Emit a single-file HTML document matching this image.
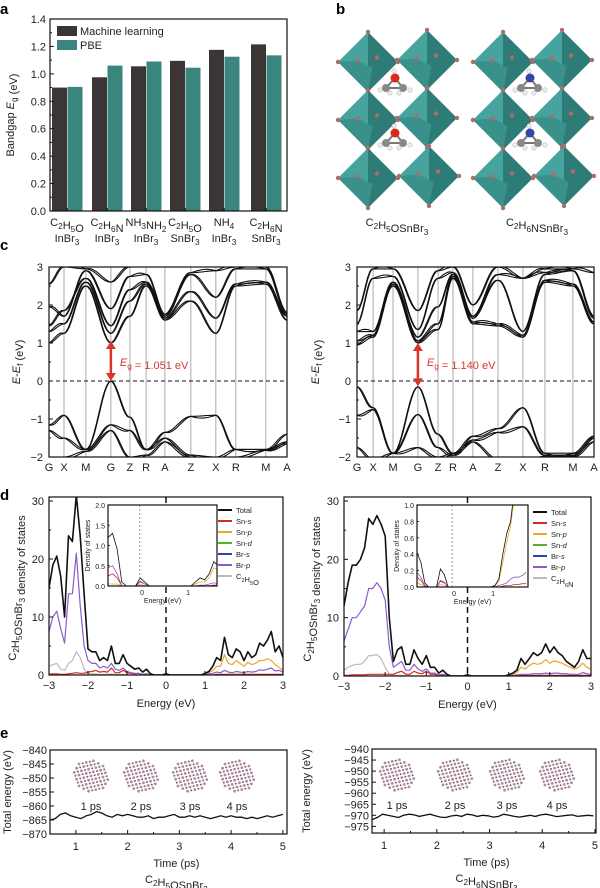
<!DOCTYPE html>
<html><head><meta charset="utf-8">
<style>
html,body{margin:0;padding:0;background:#fff;}
svg{display:block;font-family:"Liberation Sans",Arial,sans-serif;}
</style></head>
<body>
<svg id="fig" width="600" height="888" viewBox="0 0 600 888" xmlns="http://www.w3.org/2000/svg">
<defs>
<clipPath id="clipCL"><rect x="49" y="267" width="238" height="190"/></clipPath>
<clipPath id="clipCR"><rect x="357" y="267" width="237" height="190"/></clipPath>
<clipPath id="clipDL"><rect x="49" y="497" width="234" height="178"/></clipPath>
<clipPath id="clipDR"><rect x="344" y="497" width="247" height="179"/></clipPath>
<clipPath id="clipIL"><rect x="108" y="503" width="109" height="83"/></clipPath>
<clipPath id="clipIR"><rect x="417" y="505" width="111" height="82"/></clipPath>
</defs>
<g id="root"></g>
</svg>
<script>
// ===== Panel a data =====
const catTop = ["C₂H₅O","C₂H₆N","NH₃NH₂","C₂H₅O","NH₄","C₂H₆N"];
const catBot = ["InBr₃","InBr₃","InBr₃","SnBr₃","InBr₃","SnBr₃"];
const mlValues = [0.90,0.975,1.055,1.095,1.175,1.215];
const pbeValues = [0.905,1.06,1.09,1.045,1.125,1.135];
const aTicks = [0.0,0.2,0.4,0.6,0.8,1.0,1.2,1.4];
// ===== Panel c data =====
const kLabels = ["G","X","M","G","Z","R","A","Z","X","R","M","A"];
const kPosL = [0,0.063,0.155,0.26,0.34,0.408,0.487,0.596,0.701,0.785,0.911,1.0];
const kPosR = [0,0.068,0.152,0.257,0.342,0.405,0.489,0.595,0.7,0.793,0.911,1.0];
const bandsL = [
 [-1.15,-0.9,-1.8,0,-0.95,-1.8,-1.35,-0.93,-0.9,-1.8,-1.8,-1.4],
 [-1.3,-1.5,-1.8,-1.15,-1.3,-1.8,-1.5,-1.95,-2.0,-1.8,-1.8,-1.6],
 [-2.1,-2.0,-1.85,-1.3,-2.0,-1.95,-1.6,-2.0,-2.05,-2.0,-1.82,-1.65],
 [1.0,1.25,2.5,1.0,1.7,2.5,1.6,2.1,1.25,2.5,2.55,1.6],
 [1.3,1.5,2.6,1.25,2.1,2.55,1.65,2.35,1.65,2.55,2.6,1.7],
 [1.45,1.85,2.7,1.45,2.4,2.6,1.7,2.8,2.2,2.95,2.95,1.75],
 [1.95,1.7,2.9,1.9,2.75,2.8,1.75,2.85,2.9,3.0,3.0,1.8],
 [2.55,3.0,2.95,2.6,3.0,3.0,3.1,3.0,3.0,3.1,3.1,3.1]
];
const bandsR = [
 [-0.15,-0.7,-1.9,-0.15,-1.4,-1.9,-1.45,-1.25,-0.7,-1.9,-1.9,-1.45],
 [-0.9,-0.75,-1.9,-0.88,-1.75,-1.95,-1.55,-1.35,-1.2,-1.95,-1.95,-1.5],
 [-1.75,-2.05,-1.9,-1.75,-2.0,-1.9,-1.6,-2.05,-2.1,-1.98,-1.98,-1.6],
 [0.95,1.15,2.5,1.0,1.35,2.7,1.5,1.45,1.15,2.6,2.5,1.5],
 [1.05,1.2,2.55,1.05,1.5,2.75,1.55,1.5,1.2,2.65,2.55,1.55],
 [1.3,1.3,2.6,1.15,1.95,2.8,1.65,2.65,1.3,2.8,2.9,1.65],
 [1.5,2.7,2.75,1.35,2.7,2.85,1.7,2.8,2.7,2.85,2.9,1.7],
 [1.85,2.95,2.95,1.85,2.9,3.0,2.0,3.0,2.7,2.95,2.95,2.85]
];
const cTicks = [-2,-1,0,1,2,3];
// ===== Panel d data (energy grid -3..3 step 0.1) =====
const dosTotalL = [15,19,20.5,17,10,24,23,31,24,14,4.5,4,4,2.5,3,2.5,5,2,2,3.5,2,1.5,1,1.2,0.5,1,0.2,0,0,0,0.2,0,0,0,0,0,0,0,0,0,0.3,0.6,1.5,3,2.5,6.5,3.5,3,4.5,4,2.5,4,3,3.5,5.5,5,6,7.5,4,5,3];
const dosBrpL = [7.5,10,11,8,5.5,14,14,21,12,5,2.5,2,2,1.2,1.5,1.2,2,1,0.8,1.2,0.6,0.4,0.3,0.3,0.1,0.2,0,0,0,0,0,0,0,0,0,0,0,0,0,0,0.1,0.2,0.3,0.5,0.4,0.8,0.5,0.4,0.6,0.5,0.4,0.6,0.5,0.6,0.9,0.8,1,1.2,0.7,0.8,0.5];
const dosOrgL = [1.5,1.8,2,1,0.8,2,2.5,4,3,1,0.3,0.2,0.2,0.1,0.1,0.1,0.2,0.1,0.1,0.1,0,0,0,0,0,0,0,0,0,0,0,0,0,0,0,0,0,0,0,0,0,0,0,0,0,0,0,0,0,0,0,0,0,0,0,0,0,0,0,0,0];
const dosSnsL = [0.1,0.2,0.2,0.1,0.1,0.2,0.3,0.4,0.3,0.3,0.5,0.6,0.8,0.5,0.6,0.5,1.2,0.4,0.4,0.8,0.4,0.3,0.2,0.3,0.1,0.2,0,0,0,0,0.1,0,0,0,0,0,0,0,0,0,0,0,0,0.1,0.1,0.1,0.1,0.1,0.1,0.1,0.1,0.1,0.1,0.1,0.1,0.1,0.1,0.1,0.1,0.1,0.1];
const dosSnpL = [0,0,0,0,0,0,0,0,0,0,0,0,0,0,0,0,0,0,0,0,0,0,0,0,0,0,0,0,0,0,0,0,0,0,0,0,0,0,0,0,0.1,0.4,0.8,1.5,1.5,3.5,2,1.8,2.5,2,1.5,2.2,1.8,2,2.5,2.5,2.8,2.5,1.8,1.3,0.8];
const dosTotalR = [12,16,19,19,20,22,27,26,27.5,26,24,10,2.5,4.5,5,2,2,4.5,3,2,3.5,1.5,1.5,0.5,1,0.3,0,0,0,0,0.2,0,0,0,0,0,0,0,0,0,0.2,0.5,1,3,2,3,4,3.5,4,5.5,4,5,4,3.5,2.5,2,1.5,2.5,4.5,3,3];
const dosBrpR = [6,8,10,10,11,12,15,15,16,15,13,5,1.5,2,2.5,1,1,2,1.2,0.8,1.2,0.5,0.5,0.2,0.3,0.1,0,0,0,0,0,0,0,0,0,0,0,0,0,0,0,0.1,0.2,0.3,0.3,0.3,0.4,0.4,0.4,0.5,0.4,0.5,0.5,0.4,0.4,0.3,0.3,0.3,0.6,0.4,0.3];
const dosOrgR = [1,1.5,1.8,2,2,2.5,3.5,3.5,3.7,3,1.5,0.3,0.2,0.1,0.1,0,0,0,0,0,0,0,0,0,0,0,0,0,0,0,0,0,0,0,0,0,0,0,0,0,0,0,0,0,0,0,0,0,0,0,0,0,0,0,0,0,0,0,0,0,0];
const dosSnsR = [0.1,0.1,0.2,0.2,0.2,0.2,0.3,0.3,0.3,0.3,0.3,0.3,0.3,0.6,0.8,0.3,0.3,0.8,0.5,0.4,0.8,0.3,0.3,0.1,0.2,0,0,0,0,0,0.1,0,0,0,0,0,0,0,0,0,0,0,0.1,0.1,0.1,0.1,0.1,0.1,0.1,0.1,0.1,0.1,0.1,0.1,0.1,0.1,0.1,0.1,0.1,0.1,0.1];
const dosSnpR = [0,0,0,0,0,0,0,0,0,0,0,0,0,0,0,0,0,0,0,0,0,0,0,0,0,0,0,0,0,0,0,0,0,0,0,0,0,0,0,0,0.1,0.3,0.6,1.5,1.2,1.8,2.2,2,2.2,2.8,2.2,2.6,2.4,2.2,1.8,1.5,1.2,1.5,2.2,1.5,1.2];
const dTicks = [0,10,20,30];
const dxTicks = [-3,-2,-1,0,1,2,3];
// inset data (energy grid step 0.1)
const insTotL = [1.2,1.3,0.9,0.1,0,0,0,0.2,0.1,0,0,0,0,0,0,0,0,0,0,0.1,0.2,0.15,0.3,0.6,0.5,1.6,2.5,2.0];
const insSnpL = [0.05,0.05,0.05,0,0,0,0,0.05,0,0,0,0,0,0,0,0,0,0,0,0.05,0.1,0.1,0.2,0.45,0.4,1.2,2.0,1.6];
const insBrpL = [0.45,0.5,0.3,0,0,0,0,0.1,0.05,0,0,0,0,0,0,0,0,0,0,0,0.02,0.02,0.05,0.08,0.05,0.15,0.12,0.2];
const insSnsL = [0.25,0.3,0.2,0,0,0,0,0.12,0.05,0,0,0,0,0,0,0,0,0,0,0,0,0,0.01,0.02,0.02,0.03,0.03,0.05];
const insX0L = -0.74;
const insTotR = [0.42,0.3,0.05,0,0,0,0.22,0.15,0,0,0,0,0,0,0,0,0,0,0,0,0.02,0.1,0.4,0.65,0.8,1.2,1.5,1.8,1.9];
const insSnpR = [0.05,0.03,0,0,0,0,0.03,0.02,0,0,0,0,0,0,0,0,0,0,0,0,0.01,0.07,0.3,0.55,0.75,1.1,1.4,1.6,1.7];
const insBrpR = [0.18,0.12,0.02,0,0,0,0.08,0.06,0,0,0,0,0,0,0,0,0,0,0,0,0,0.02,0.03,0.05,0.1,0.12,0.12,0.14,0.18];
const insSnsR = [0.12,0.08,0.01,0,0,0,0.07,0.05,0,0,0,0,0,0,0,0,0,0,0,0,0,0,0.01,0.02,0.02,0.03,0.03,0.04,0.04];
const insX0R = -0.95;
// ===== Panel e data (time step 0.1 ps) =====
const energyL = [-865,-864.5,-863,-862.5,-863.5,-864,-864.5,-863.5,-863,-862,-862.5,-863.5,-864,-863,-863.5,-863,-863.5,-864,-864,-863.5,-864.5,-864,-864,-863.5,-863,-864,-864,-863.5,-864,-863.5,-864,-864.5,-864,-863.5,-864,-863.5,-864,-864,-864.5,-864,-864.5,-864,-863.5,-864,-863.5,-863];
const energyR = [-972,-971,-969.5,-970,-970.5,-971,-970,-969.5,-969.8,-970.5,-970,-969.5,-970.2,-970.8,-971,-970.3,-970,-970.5,-969.5,-969.8,-970.5,-970,-970.2,-970.8,-970.5,-969.5,-970,-970.5,-970.8,-970.4,-970,-970.5,-969.8,-969.5,-970,-970.6,-970.3,-970,-969.8,-970.5,-970.2,-970,-970.2];
const eTicksL = [-840,-845,-850,-855,-860,-865,-870];
const eTicksR = [-940,-945,-950,-955,-960,-965,-970,-975];
const tTicks = [1,2,3,4,5];

const NS = "http://www.w3.org/2000/svg";
const root = document.getElementById('root');
function el(tag, attrs, name, parent){
  const e = document.createElementNS(NS, tag);
  for (const k in attrs) e.setAttribute(k, attrs[k]);
  
  
  (parent||root).appendChild(e);
  return e;
}
function txt(x,y,s,size,name,anchor,extra,parent){
  const t = el('text', Object.assign({x:x,y:y,'font-size':size,'text-anchor':anchor||'middle',fill:'#222'}, extra||{}), name, parent);
  t.innerHTML = s;
  return t;
}
function sub(s){return '<tspan dy="3" font-size="0.75em">'+s+'</tspan><tspan dy="-3"></tspan>';}
function line(x1,y1,x2,y2,stroke,w,name,dash,parent){
  const a={x1:x1,y1:y1,x2:x2,y2:y2,stroke:stroke,'stroke-width':w};
  if(dash) a['stroke-dasharray']=dash;
  return el('line',a,name,parent);
}
function frame(x,y,w,h,name){ return el('rect',{x:x,y:y,width:w,height:h,fill:'none',stroke:'#111','stroke-width':1.2},name); }
function plab(x,y,s){ txt(x,y,s,15,'panel-label-'+s,'start',{'font-weight':'bold',fill:'#000'}); }

// ===== Panel a =====
plab(0,14,'a');
(function(){
  const X0=50,X1=287,Y0=211,Y1=19;
  const ys=v=>Y0-(v/1.4)*(Y0-Y1);
  const centers=[67,107,146,185,224,266];
  const bw=15;
  mlValues.forEach((v,i)=>{
    el('rect',{x:centers[i]-bw,y:ys(v),width:bw,height:Y0-ys(v),fill:'#3b3536'},'bar-ml-'+i);
  });
  pbeValues.forEach((v,i)=>{
    el('rect',{x:centers[i]+0.5,y:ys(v),width:bw,height:Y0-ys(v),fill:'#3b857f'},'bar-pbe-'+i);
  });
  frame(X0,Y1,X1-X0,Y0-Y1,'plot-frame-a');
  aTicks.forEach(v=>{
    line(X0,ys(v),X0+4,ys(v),'#111',1,'y-tick-a');
    txt(X0-4,ys(v)+4,v.toFixed(1),11,'y-tick-label-a','end');
  });
  for(let v=0.1;v<1.4;v+=0.2) line(X0,ys(v),X0+2,ys(v),'#111',1,'y-minor-tick-a');
  const fmt=c=>c.replace(/([₀-₉])/g,m2=>sub(String.fromCharCode(m2.charCodeAt(0)-0x2080+48)));
  catTop.forEach((c,i)=>{
    line(centers[i],Y0,centers[i],Y0-3,'#111',1,'x-tick-a');
    const t=txt(centers[i],226,'',11,'x-label-a','middle');
    t.innerHTML = fmt(c);
    const b=txt(centers[i],242,'',11,'x-label-a-formula','middle');
    b.innerHTML = fmt(catBot[i]);
  });
  txt(14,115,'Bandgap <tspan font-style="italic">E</tspan>'+sub('g')+' (eV)',11,'y-axis-title-a','middle',{transform:'rotate(-90 14 115)'});
  el('rect',{x:57,y:26,width:20,height:10,fill:'#3b3536'},'legend-swatch-ml');
  txt(80,35,'Machine learning',11,'legend-label-ml','start');
  el('rect',{x:57,y:40,width:20,height:10,fill:'#3b857f'},'legend-swatch-pbe');
  txt(80,49,'PBE',11,'legend-label-pbe','start');
})();

// ===== Panel b (structures) =====
plab(336,14,'b');
function octa(cx,cy,s,name){
  const g=el('g',{},name);
  el('polygon',{points:`${cx},${cy-s} ${cx-s},${cy} ${cx},${cy+s} `,fill:'#47a39d'},'octahedron-face-left',g);
  el('polygon',{points:`${cx},${cy-s} ${cx+s},${cy} ${cx},${cy+s}`,fill:'#2e7c77'},'octahedron-face-right',g);
  el('polygon',{points:`${cx-s},${cy} ${cx},${cy+s} ${cx+s*0.15},${cy+s*0.2} ${cx-s*0.35},${cy-s*0.05}`,fill:'#3a918b'},'octahedron-face-front',g);
  [[cx,cy-s],[cx-s,cy],[cx,cy+s],[cx+s,cy],[cx-s*0.35,cy-s*0.05],[cx+s*0.3,cy-s*0.15]].forEach(p=>{
    el('circle',{cx:p[0],cy:p[1],r:2.2,fill:'#b06a6a'},'br-atom',g);
  });
}
function molecule(cx,cy,col,name){
  const g=el('g',{},name);
  line(cx,cy,cx-9,cy+10,'#777',2,'bond',null,g);line(cx,cy,cx+8,cy+10,'#777',2,'bond',null,g);line(cx-9,cy+10,cx+8,cy+10,'#777',2,'bond',null,g);
  el('circle',{cx:cx,cy:cy,r:4.5,fill:col},'hetero-atom',g);
  el('circle',{cx:cx-9,cy:cy+10,r:4,fill:'#888'},'carbon-atom',g);
  el('circle',{cx:cx+8,cy:cy+10,r:4,fill:'#888'},'carbon-atom',g);
  [[cx-1,cy-7],[cx-15,cy+12],[cx+15,cy+12],[cx-5,cy+15],[cx+4,cy+15]].forEach(p=>el('circle',{cx:p[0],cy:p[1],r:2.2,fill:'#eee',stroke:'#aaa','stroke-width':0.5},'h-atom',g));
}
[[337,0],[472,1]].forEach(([ox,k])=>{
  const rows=[62,120,178], cols=[ox+31,ox+90];
  rows.forEach((ry,r)=>cols.forEach((cx,c)=>octa(cx+(c===1&&r===2?2:0),ry+(c===1?-2:0),30,'octahedron')));
  molecule(ox+58,78,k?'#3346a8':'#d92a1c','molecule-top');
  molecule(ox+58,133,k?'#3346a8':'#d92a1c','molecule-bottom');
});
txt(397,226,'C'+sub('2')+'H'+sub('5')+'OSnBr'+sub('3'),11,'structure-label-left');
txt(537,226,'C'+sub('2')+'H'+sub('6')+'NSnBr'+sub('3'),11,'structure-label-right');

// ===== Panel c (band structures) =====
plab(0,250,'c');
function bandPanel(X0,X1,kPos,bands,clip,gap,vbm,side,titleOff){
  const Y0=457,Y1=267;
  const ys=v=>Y0-(v+2)/5*(Y0-Y1);
  const xs=f=>X0+f*(X1-X0);
  const g=el('g',{'clip-path':'url(#'+clip+')'},'band-lines-'+side);
  kPos.forEach((f,i)=>{ if(i>0&&i<kPos.length-1) line(xs(f),Y1,xs(f),Y0,'#aaa',1,'k-point-gridline',null,g); });
  bands.forEach((b,bi)=>{
    [0,0.06].forEach(off=>{
      let d='';
      for(let i=0;i<b.length-1;i++){
        const xa=xs(kPos[i]),xb=xs(kPos[i+1]);
        for(let s=0;s<=12;s++){
          const t=s/12, w=(1-Math.cos(Math.PI*t))/2;
          const v=b[i]+(b[i+1]-b[i])*w + (bi<3?-off:off)*Math.sin(Math.PI*t);
          d+=(d?'L':'M')+(xa+(xb-xa)*t).toFixed(1)+','+ys(v).toFixed(1);
        }
      }
      el('path',{d:d,fill:'none',stroke:'#111','stroke-width':1.1},'band-'+bi,g);
    });
  });
  line(X0,ys(0),X1,ys(0),'#111',1,'fermi-level-line','4,3');
  frame(X0,Y1,X1-X0,Y0-Y1,'plot-frame-c-'+side);
  cTicks.forEach(v=>{
    line(X0,ys(v),X0+4,ys(v),'#111',1,'y-tick-c');
    txt(X0-6,ys(v)+4,v<0?'−'+(-v):String(v),11,'y-tick-label-c','end');
  });
  for(let v=-1.5;v<3;v+=1) line(X0,ys(v),X0+2,ys(v),'#111',1,'y-minor-tick-c');
  kLabels.forEach((l,i)=>txt(xs(kPos[i]),471,l,11,'k-point-label'));
  const gx=xs(kPos[3]);
  const top=ys(vbm+gap), bot=ys(vbm);
  line(gx,top+6,gx,bot-6,'#d8352a',2.5,'bandgap-arrow-shaft');
  el('polygon',{points:`${gx},${top} ${gx-5},${top+8} ${gx+5},${top+8}`,fill:'#d8352a'},'bandgap-arrow-head-up');
  el('polygon',{points:`${gx},${bot} ${gx-5},${bot-8} ${gx+5},${bot-8}`,fill:'#d8352a'},'bandgap-arrow-head-down');
  txt(gx+9,ys(0.5)+4,'<tspan font-style="italic">E</tspan>'+sub('g')+' = '+gap.toFixed(3)+' eV',11,'bandgap-annotation','start',{fill:'#d8352a'});
  const tx=X0-titleOff;
  txt(tx,362,'<tspan font-style="italic">E</tspan>-<tspan font-style="italic">E</tspan>'+sub('f')+' (eV)',11,'y-axis-title-c','middle',{transform:`rotate(-90 ${tx} 362)`});
}
bandPanel(49,287,kPosL,bandsL,'clipCL',1.051,0,'left',29);
bandPanel(357,594,kPosR,bandsR,'clipCR',1.140,-0.14,'right',38);

// ===== Panel d (DOS) =====
plab(0,500,'d');
const colTot='#111',colSns='#d42a25',colSnp='#e8a82c',colSnd='#5aad2e',colBrs='#2b48a0',colBrp='#8a5cc8',colOrg='#bbbbbb';
function dosPanel(X0,X1,Y0,Y1top,series,clip,side,ins,orgLabel){
  const ys=v=>Y0-(v/30)*(Y0-501);
  const xs=e=>X0+(e+3)/6*(X1-X0);
  const g=el('g',{'clip-path':'url(#'+clip+')'},'dos-curves-'+side);
  series.forEach(([arr,col,nm,w])=>{
    const d=arr.map((v,i)=>(i?'L':'M')+xs(-3+i*0.1).toFixed(1)+','+ys(v).toFixed(1)).join('');
    el('path',{d:d,fill:'none',stroke:col,'stroke-width':w,'stroke-linejoin':'round'},'dos-'+nm,g);
  });
  line(xs(0),Y1top,xs(0),Y0,'#111',1.5,'fermi-level-dashed','6,4');
  frame(X0,Y1top,X1-X0,Y0-Y1top,'plot-frame-d-'+side);
  dTicks.forEach(v=>{ line(X0,ys(v),X0+4,ys(v),'#111',1,'y-tick-d'); txt(X0-5,ys(v)+4,String(v),11,'y-tick-label-d','end'); });
  for(let v=5;v<30;v+=10) line(X0,ys(v),X0+2,ys(v),'#111',1,'y-minor-tick-d');
  dxTicks.forEach(v=>{ line(xs(v),Y0,xs(v),Y0-4,'#111',1,'x-tick-d'); txt(xs(v),Y0+14,v<0?'−'+(-v):String(v),11,'x-tick-label-d'); });
  txt((X0+X1)/2,Y0+32,'Energy (eV)',11,'x-axis-title-d');
  const ty=Y0-87;
  txt(X0-33,ty,'C'+sub('2')+'H'+sub('5')+'OSnBr'+sub('3')+' density of states',11,'y-axis-title-d','middle',{transform:`rotate(-90 ${X0-33} ${ty})`});
  const [IX0,IX1,IY0,IY1,ymax,x0,pxPerEv,itks,items,lx,ly]=ins;
  el('rect',{x:IX0,y:IY1,width:IX1-IX0,height:IY0-IY1,fill:'#fff'},'inset-background');
  const ixs=e=>IX0+(e-x0)*pxPerEv, iys=v=>IY0-v/ymax*(IY0-IY1);
  const ig=el('g',{'clip-path':'url(#'+(side==='left'?'clipIL':'clipIR')+')'},'inset-curves');
  items.forEach(([arr,col,nm])=>{
    const d=arr.map((v,i)=>(i?'L':'M')+ixs(x0+i*0.1).toFixed(1)+','+iys(v).toFixed(1)).join('');
    el('path',{d:d,fill:'none',stroke:col,'stroke-width':0.8},'inset-'+nm,ig);
  });
  line(ixs(-0.05),IY1,ixs(-0.05),IY0,'#888',0.8,'inset-fermi-line','2,2');
  frame(IX0,IY1,IX1-IX0,IY0-IY1,'inset-frame');
  itks.forEach(v=>{ line(IX0,iys(v),IX0+2,iys(v),'#111',0.8,'inset-y-tick'); txt(IX0-3,iys(v)+3,v.toFixed(1),7,'inset-y-tick-label','end'); });
  [0,1].forEach(v=>txt(ixs(v),IY0+9,String(v),7,'inset-x-tick-label'));
  txt((IX0+IX1)/2,IY0+17,'Energy (eV)',7,'inset-x-axis-title');
  txt(IX0-18,(IY0+IY1)/2,'Density of states',7,'inset-y-axis-title','middle',{transform:`rotate(-90 ${IX0-18} ${(IY0+IY1)/2})`});
  const leg=[['Total',colTot],['Sn-<tspan font-style="italic">s</tspan>',colSns],['Sn-<tspan font-style="italic">p</tspan>',colSnp],['Sn-<tspan font-style="italic">d</tspan>',colSnd],['Br-<tspan font-style="italic">s</tspan>',colBrs],['Br-<tspan font-style="italic">p</tspan>',colBrp],[orgLabel,colOrg]];
  leg.forEach(([l,c],i)=>{
    line(lx,ly+i*11,lx+14,ly+i*11,c,2,'legend-line');
    txt(lx+18,ly+i*11+3,l,7.5,'legend-label','start');
  });
}
dosPanel(49,283,675,497,[[dosOrgL,colOrg,'organic',1.2],[dosSnpL,colSnp,'sn-p',1.2],[dosSnsL,colSns,'sn-s',1.2],[dosBrpL,colBrp,'br-p',1.2],[dosTotalL,colTot,'total',1.6]],'clipDL','left',
  [108,217,586,505,2,insX0L,46,[0,0.5,1,1.5,2],[[insSnpL,colSnp,'sn-p'],[insSnsL,colSns,'sn-s'],[insBrpL,colBrp,'br-p'],[insTotL,colTot,'total']],218,510],'C'+sub('2')+'H'+sub('5')+'O');
dosPanel(344,591,676,497,[[dosOrgR,colOrg,'organic',1.2],[dosSnpR,colSnp,'sn-p',1.2],[dosSnsR,colSns,'sn-s',1.2],[dosBrpR,colBrp,'br-p',1.2],[dosTotalR,colTot,'total',1.6]],'clipDR','right',
  [417,528,587,505,1,insX0R,39,[0,0.2,0.4,0.6,0.8,1.0],[[insSnpR,colSnp,'sn-p'],[insSnsR,colSns,'sn-s'],[insBrpR,colBrp,'br-p'],[insTotR,colTot,'total']],533,512],'C'+sub('2')+'H'+sub('6')+'N');

// ===== Panel e (MD energy) =====
plab(0,738,'e');
function snapshot(cx,cy,name){
  const g=el('g',{},name);
  for(let i=-5;i<=5;i++)for(let j=-5;j<=5;j++){
    if(i*i+j*j>24) continue;
    const x=cx+i*3.6+j*1.2, y=cy+j*3.4-i*0.8;
    el('circle',{cx:x.toFixed(1),cy:y.toFixed(1),r:((i+j)%2===0)?1.4:1.0,fill:((i+j)%2===0)?'#9d8fb8':'#a8553a'},'atom',g);
  }
}
function mdPanel(X0,X1,Y0,Y1,tmin,tmax,emin,emax,vals,t0,ticks,side,snaps,label,titleX){
  const xs=t=>X0+(t-tmin)/(tmax-tmin)*(X1-X0);
  const ys=v=>Y0-(v-emin)/(emax-emin)*(Y0-Y1);
  snaps.forEach((sx,i)=>{ snapshot(sx,Y1+26,'snapshot-'+(i+1)); txt(sx,Y1+60,(i+1)+' ps',11,'snapshot-label'); });
  const d=vals.map((v,i)=>(i?'L':'M')+xs(t0+i*0.1).toFixed(1)+','+ys(v).toFixed(1)).join('');
  el('path',{d:d,fill:'none',stroke:'#111','stroke-width':1.3},'total-energy-line-'+side);
  frame(X0,Y1,X1-X0,Y0-Y1,'plot-frame-e-'+side);
  ticks.forEach(v=>{ line(X0,ys(v),X0+4,ys(v),'#111',1,'y-tick-e'); txt(X0-3,ys(v)+4,'−'+(-v),11,'y-tick-label-e','end'); });
  tTicks.forEach(v=>{ line(xs(v),Y0,xs(v),Y0-4,'#111',1,'x-tick-e'); txt(xs(v),Y0+16,String(v),11,'x-tick-label-e'); });
  for(let v=1.5;v<5;v+=1) line(xs(v),Y0,xs(v),Y0-2,'#111',1,'x-minor-tick-e');
  const cx=(xs(1)+xs(5))/2-3;
  txt(cx,Y0+33,'Time (ps)',11,'x-axis-title-e');
  txt(cx,Y0+49,label,11,'compound-label-e');
  const my=(Y0+Y1)/2;
  txt(titleX,my,'Total energy (eV)',11,'y-axis-title-e','middle',{transform:`rotate(-90 ${titleX} ${my})`});
}
mdPanel(50,287,834,750,0.5,5.08,-870,-840,energyL,0.5,eTicksL,'left',[91,141,190,237],'C'+sub('2')+'H'+sub('5')+'OSnBr'+sub('3'),11);
mdPanel(372,596,833,749,0.77,5.02,-978,-940,energyR,0.77,eTicksR,'right',[397,455,507,557],'C'+sub('2')+'H'+sub('6')+'NSnBr'+sub('3'),310);
</script>
</body></html>
